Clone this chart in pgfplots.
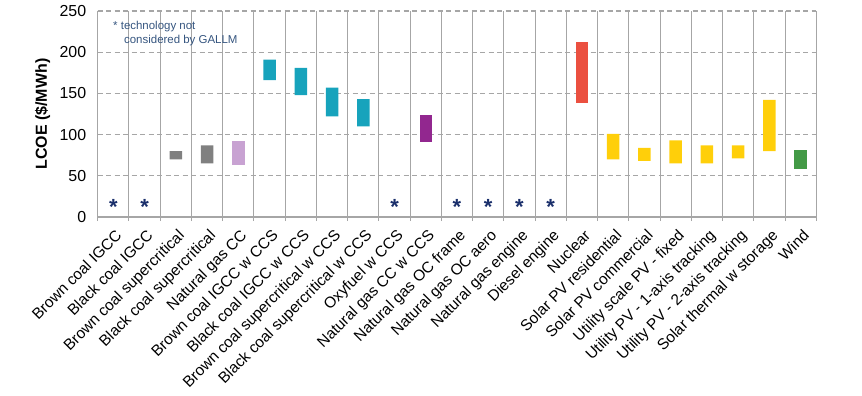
\documentclass[border=0pt]{standalone}
\usepackage{pgfplots}
\pgfplotsset{compat=1.18}
\usepackage{pgfplotstable}
\usepackage{fontspec}
\setmainfont{Liberation Sans}
\definecolor{cgray}{HTML}{808080}
\definecolor{clpur}{HTML}{C8A2D2}
\definecolor{cteal}{HTML}{17A3BC}
\definecolor{cpur}{HTML}{92278F}
\definecolor{cred}{HTML}{EB5040}
\definecolor{cyel}{HTML}{FFCF0A}
\definecolor{cgrn}{HTML}{439A46}
\definecolor{gridc}{HTML}{A6A6A6}
\definecolor{annot}{HTML}{35557F}
\definecolor{star}{HTML}{1A2F6B}
\pgfplotstableread{
x    low  gray lpur teal pur red yel grn st
0.5  0    0    0    0    0   0   0   0   5.3
1.5  0    0    0    0    0   0   0   0   5.3
2.5  70   10   0    0    0   0   0   0   0
3.5  65   22   0    0    0   0   0   0   0
4.5  63   0    29   0    0   0   0   0   0
5.5  166  0    0    25   0   0   0   0   0
6.5  148  0    0    33   0   0   0   0   0
7.5  122  0    0    35   0   0   0   0   0
8.5  110  0    0    33   0   0   0   0   0
9.5  0    0    0    0    0   0   0   0   5.3
10.5 91   0    0    0    33  0   0   0   0
11.5 0    0    0    0    0   0   0   0   5.3
12.5 0    0    0    0    0   0   0   0   5.3
13.5 0    0    0    0    0   0   0   0   5.3
14.5 0    0    0    0    0   0   0   0   5.3
15.5 138  0    0    0    0   74  0   0   0
16.5 70   0    0    0    0   0   31  0   0
17.5 68   0    0    0    0   0   16  0   0
18.5 65   0    0    0    0   0   28  0   0
19.5 65   0    0    0    0   0   22  0   0
20.5 71   0    0    0    0   0   16  0   0
21.5 80   0    0    0    0   0   62  0   0
22.5 58   0    0    0    0   0   0   23  0
}\lcoe
\begin{document}
\begin{tikzpicture}
\begin{axis}[
  scale only axis,
  width=718.6bp, height=206bp,
  xmin=0, xmax=23, ymin=0, ymax=250,
  axis lines*=left,
  axis line style={gridc, line width=1.1bp},
  ybar stacked, bar width=12.5bp,
  xtick={0,...,23}, xticklabels={},
  xmajorgrids, ymajorgrids,
  x grid style={gridc, line width=1.1bp},
  y grid style={gridc, line width=1.2bp, dash pattern=on 5bp off 3.5bp},
  tick align=outside,
  x tick style={gridc, line width=1.1bp},
  major tick length=4bp,
  ytick={0,50,...,250},
  y tick style={draw=none},
  /pgf/number format/assume math mode=true,
  y tick label style={font=\fontsize{16}{18}\selectfont, xshift=-4bp},
  extra x ticks={0.5,1.5,...,22.5},
  extra x tick labels={Brown coal IGCC,Black coal IGCC,Brown coal supercritical,Black coal supercritical,Natural gas CC,Brown coal IGCC w CCS,Black coal IGCC w CCS,Brown coal supercritical w CCS,Black coal supercritical w CCS,Oxyfuel w CCS,Natural gas CC w CCS,Natural gas OC frame,Natural gas OC aero,Natural gas engine,Diesel engine,Nuclear,Solar PV residential,Solar PV commercial,Utility scale PV - fixed,Utility PV - 1-axis tracking,Utility PV - 2-axis tracking,Solar thermal w storage,Wind},
  extra x tick style={grid=none, major tick length=0pt,
    tick label style={rotate=45, anchor=north east, inner sep=1bp, font=\fontsize{15.5}{18}\selectfont, xshift=-6bp, yshift=-8bp}},
  ylabel={\bfseries LCOE (\$/MWh)},
  every axis y label/.style={at={(rel axis cs:0,0.5)}, xshift=-55bp, rotate=90, anchor=center, font=\fontsize{16}{18}\selectfont},
  clip=false,
]
\addplot[fill=none, draw=none] table[x=x, y=low] {\lcoe};
\addplot[fill=cgray, draw=none] table[x=x, y=gray] {\lcoe};
\addplot[fill=clpur, draw=none] table[x=x, y=lpur] {\lcoe};
\addplot[fill=cteal, draw=none] table[x=x, y=teal] {\lcoe};
\addplot[fill=cpur, draw=none] table[x=x, y=pur] {\lcoe};
\addplot[fill=cred, draw=none] table[x=x, y=red] {\lcoe};
\addplot[fill=cyel, draw=none] table[x=x, y=yel] {\lcoe};
\addplot[fill=cgrn, draw=none] table[x=x, y=grn] {\lcoe};
\addplot[fill=none, draw=none,
  visualization depends on={\thisrow{st} \as \rawst},
  nodes near coords={\ifdim\rawst pt>1pt\textbf{*}\fi},
  every node near coord/.style={anchor=base, inner sep=0pt, text=star, font=\fontsize{22}{24}\selectfont}]
  table[x=x, y=st] {\lcoe};
\node[anchor=base west, inner sep=0pt, text=annot, font=\fontsize{11.5}{13}\selectfont] at (axis cs:0.49,228) {* technology not};
\node[anchor=base west, inner sep=0pt, text=annot, font=\fontsize{11.5}{13}\selectfont] at (axis cs:0.84,210) {considered by GALLM};
\coordinate (bl) at (rel axis cs:0,0);
\end{axis}
\pgfresetboundingbox
\path[use as bounding box] (bl) ++(-97.7bp,-179bp) rectangle ++(862bp,396bp);
\end{tikzpicture}
\end{document}
